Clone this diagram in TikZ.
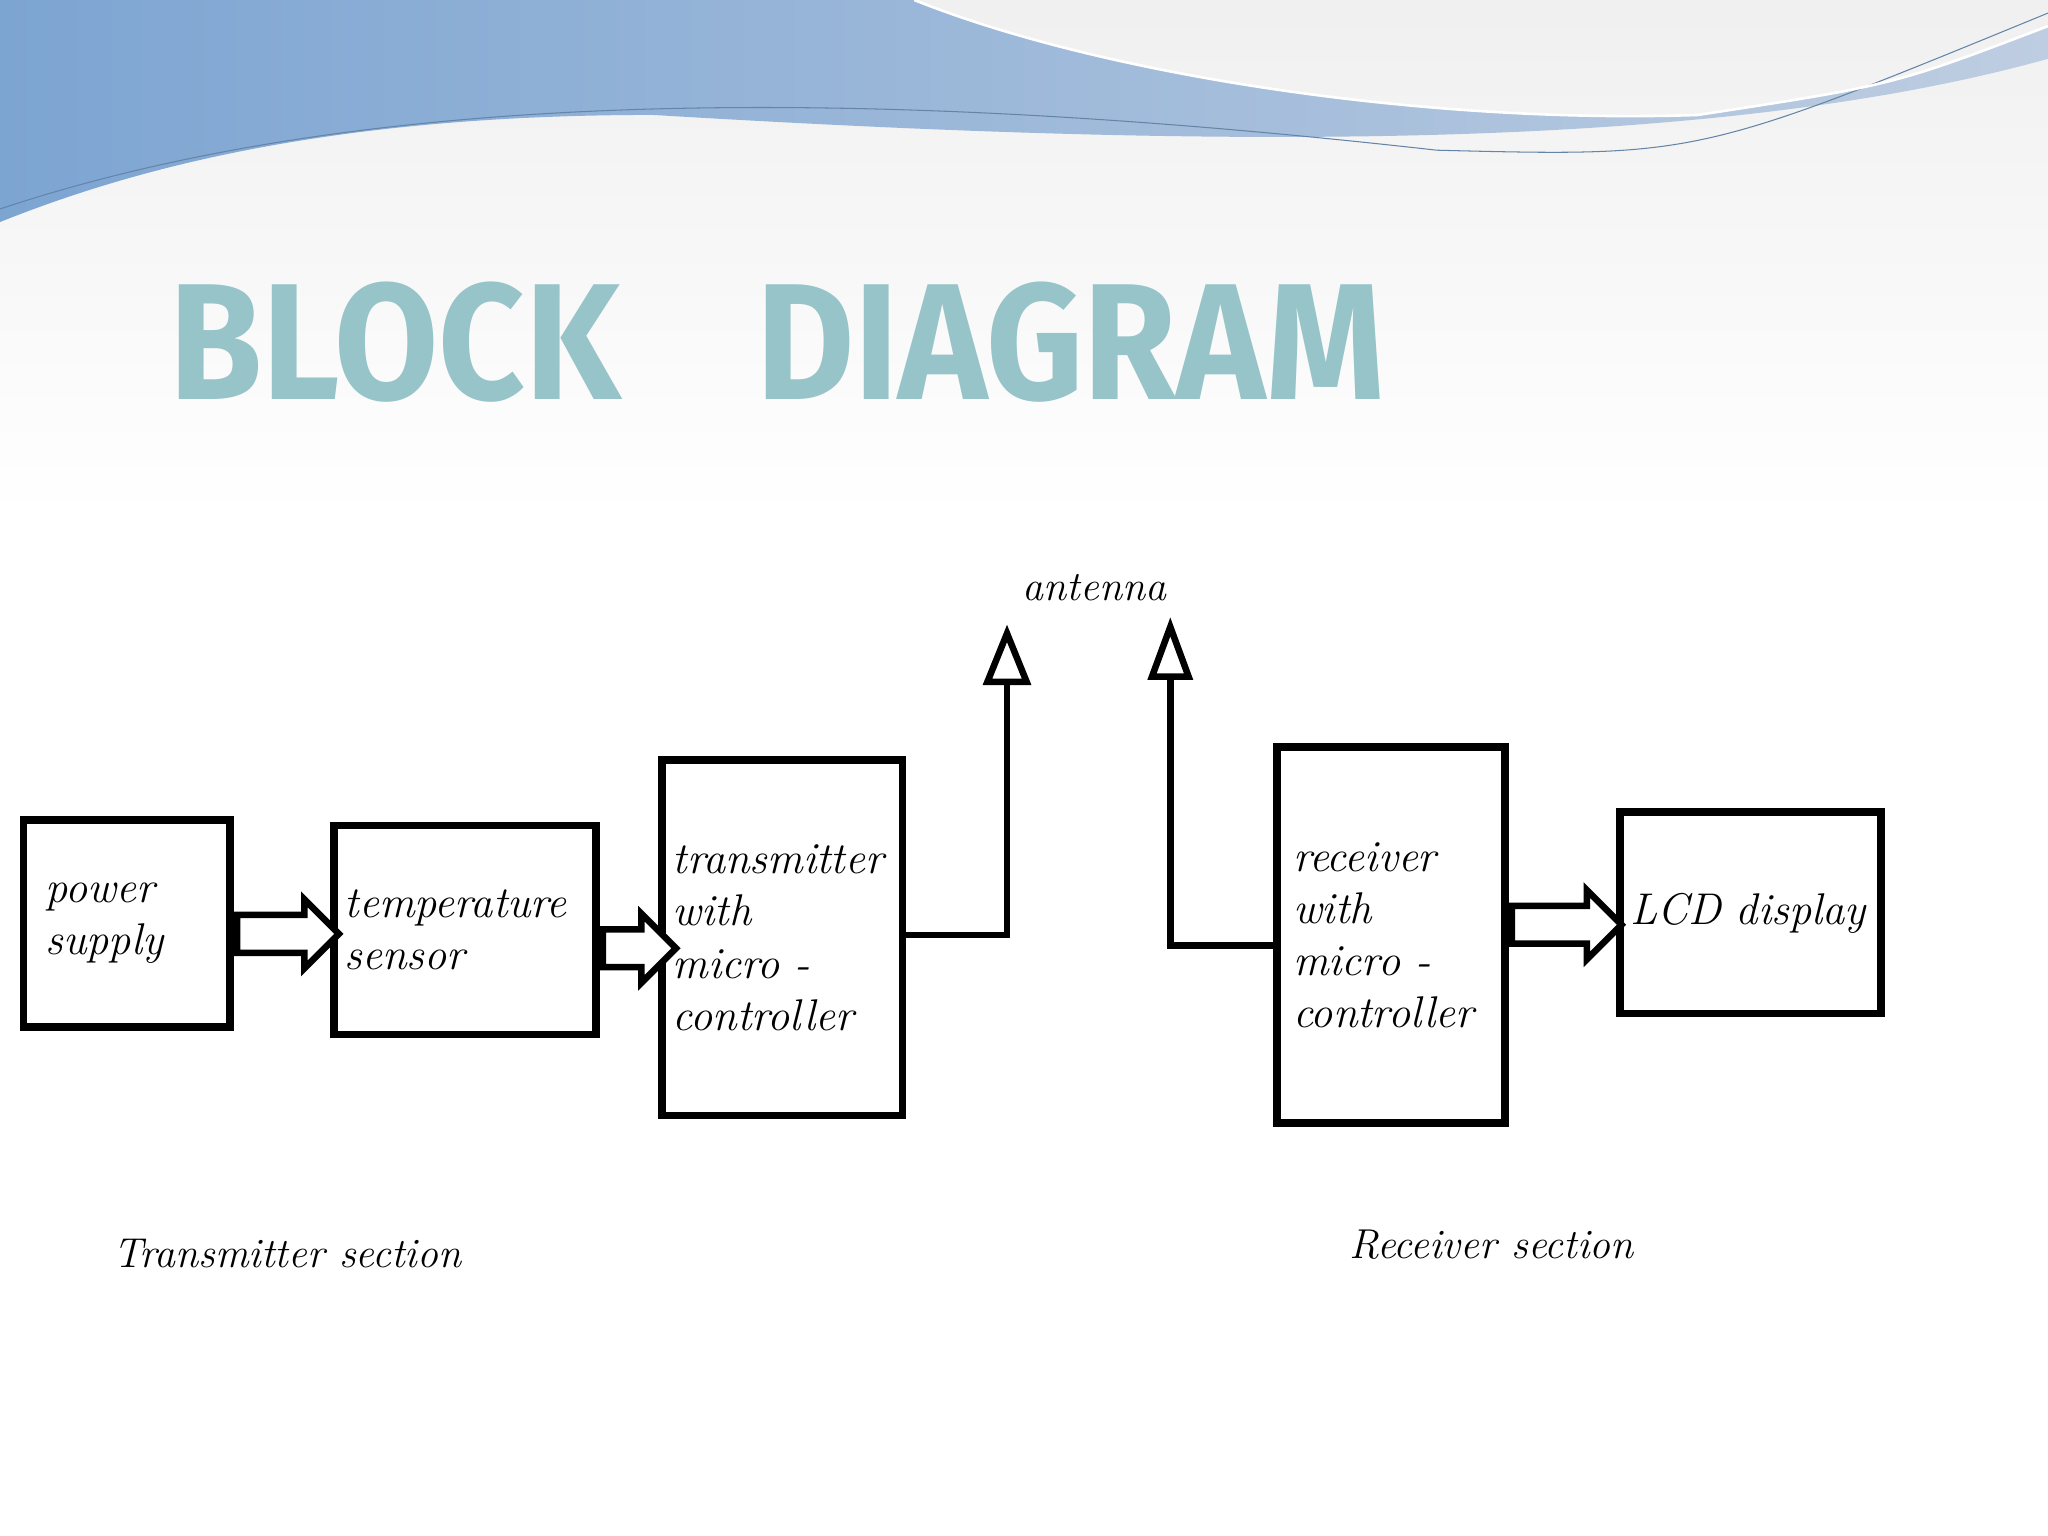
\documentclass[tikz,border=0pt]{standalone}
\usepackage{fontspec}
\usetikzlibrary{shapes.arrows}
\newfontfamily\titlefont{Fira Sans}
\definecolor{titlecol}{RGB}{150,196,200}
\definecolor{wavecol}{RGB}{125,165,210}
\definecolor{wavelight}{RGB}{190,205,225}
\tikzset{
  blk/.style={draw, line width=3pt, inner sep=4pt, align=left, font=\fontsize{17}{20}\selectfont\itshape},
  fat/.style={single arrow, draw, line width=2.5pt, fill=white, minimum height=39pt, anchor=tail,
    single arrow head extend=6pt, inner xsep=0pt, inner ysep=6pt},
  feed/.style={line width=2.5pt},
  tip/.style={draw, line width=2.5pt, fill=white},
  lbl/.style={font=\fontsize{16}{19}\selectfont\itshape}
}
\begin{document}
\begin{tikzpicture}[x=0.5pt,y=-0.5pt]
\useasboundingbox (0,0) rectangle (1568,1176);
\fill[white] (0,0) rectangle (1568,1176);
\shade[top color=black!6, bottom color=white] (0,0) rectangle (1568,395);

% wave on top
\shade[left color=wavecol, right color=wavelight] (0,0) -- (700,0) .. controls (850,60) and (1100,95) .. (1300,88)
  .. controls (1450,65) .. (1568,20) -- (1568,45) .. controls (1300,120) and (900,112) .. (500,88)
  .. controls (250,88) and (100,130) .. (0,170) -- cycle;
\draw[wavecol!80!black, thin] (0,160) .. controls (300,60) and (700,70) .. (1100,115) .. controls (1300,120) .. (1568,10);
\draw[white, line width=1pt] (700,0) .. controls (850,60) and (1100,95) .. (1300,88) .. controls (1450,65) .. (1568,20);

% title
\node[text=titlecol, inner sep=0pt] (title) at (595,262)
  {\resizebox{465pt}{45pt}{\titlefont\bfseries BLOCK\hspace{0.9em}DIAGRAM}};

% blocks
\node[blk, minimum width=79pt, minimum height=79pt, text width=62pt] (pwr) at (97,707) {power\\supply};
\node[blk, minimum width=100pt, minimum height=80pt, text width=92pt] (temp) at (356,712) {temperature\\sensor};
\node[blk, minimum width=90pt, minimum height=136pt, text width=84pt] (tx) at (599,718) {transmitter\\ with\\ micro -\\ controller};
\node[blk, minimum width=87pt, minimum height=144pt, text width=75pt] (rx) at (1065,716) {receiver\\with\\micro -\\controller};
\node[blk, minimum width=100pt, minimum height=77pt, text width=92pt] (lcd) at (1340,699) {LCD\ display};

% block arrows
\node[fat] (a1) at (pwr.east |- 0,715) {};
\node[fat, minimum height=28pt] (a2) at (temp.east |- 0,726) {};
\node[fat, minimum height=42pt] (a3) at (rx.east |- 0,708) {};

% antenna feeds
\coordinate (ant1) at (771,522);
\coordinate (ant2) at (896,518);
\draw[feed] (tx.east |- 0,716) -- (771,716) -- (ant1);
\draw[feed] (rx.west |- 0,724) -- (896,724) -- (ant2);
\draw[tip] (ant1) ++(-15,0) -- (771,485) -- (786,522) -- cycle;
\draw[tip] (ant2) ++(-14,0) -- (896,480) -- (910,518) -- cycle;

\node[lbl] (ant) at (838,450) {antenna};
\node[lbl] (txs) at (220,960) {Transmitter section};
\node[lbl] (rxs) at (1142,953) {Receiver section};
\end{tikzpicture}
\end{document}
